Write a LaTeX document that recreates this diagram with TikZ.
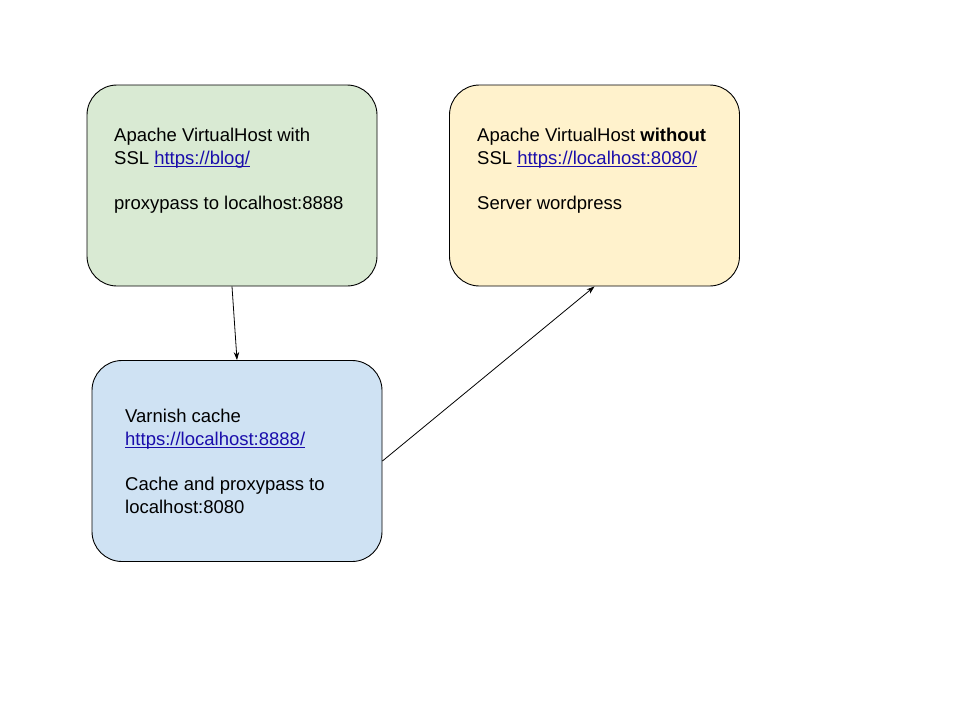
\documentclass[tikz,border=0pt]{standalone}
\usepackage{fontspec}
\setmainfont{Liberation Sans}
\usetikzlibrary{arrows.meta}
\definecolor{gfill}{HTML}{D9EAD3}
\definecolor{yfill}{HTML}{FFF2CC}
\definecolor{bfill}{HTML}{CFE2F3}
\definecolor{linkc}{HTML}{1A0DAB}
\newcommand{\lnk}[1]{\textcolor{linkc}{\setbox0\hbox{#1}\rlap{\rule[-2.6pt]{\wd0}{1.1pt}}\box0}}
\tikzset{
  boxstyle/.style={draw=black, line width=0.9pt, rounded corners=30pt, minimum width=290pt, minimum height=201pt, inner sep=0pt},
  txt/.style={anchor=north west, inner sep=0pt, align=left, font=\fontsize{18.5}{22.8}\selectfont},
  conn/.style={draw=black, line width=0.8pt, -{Stealth[length=8pt,width=5.5pt]}}
}
\begin{document}
\begin{tikzpicture}[x=1pt,y=-1pt]
\useasboundingbox (0,0) rectangle (960,720);
\node[boxstyle, fill=gfill] (g) at (232,185.5) {};
\node[boxstyle, fill=yfill] (y) at (594.5,185.5) {};
\node[boxstyle, fill=bfill] (b) at (237,461) {};
\node[txt] (gt) at (114,127.8) {Apache VirtualHost with\\SSL \lnk{https://blog/}\\[22.5pt]proxypass to localhost:8888};
\node[txt] (yt) at (477,127.8) {Apache VirtualHost \textbf{without}\\SSL \lnk{https://localhost:8080/}\\[22.5pt]Server wordpress};
\node[txt] (bt) at (125,408.8) {Varnish cache\\\lnk{https://localhost:8888/}\\[22.5pt]Cache and proxypass to\\localhost:8080};
\draw[conn] (g.south) -- (b.north);
\draw[conn] (b.east) -- (y.south);
\end{tikzpicture}
\end{document}
